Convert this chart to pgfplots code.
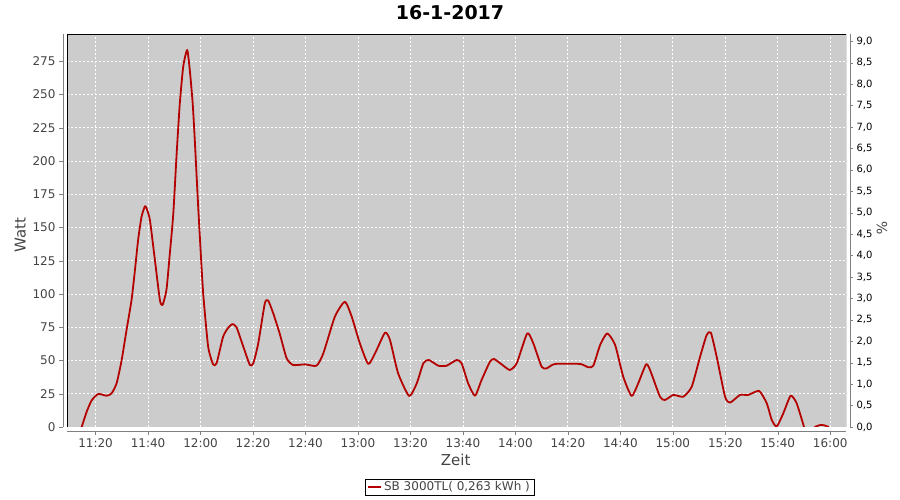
\documentclass[border=0pt]{standalone}
\usepackage{fontspec}
\setmainfont{DejaVu Sans}
\usepackage{pgfplots}
\pgfplotsset{compat=1.18}
\definecolor{bg}{RGB}{204,204,204}
\definecolor{wline}{RGB}{180,0,0}
\definecolor{axgray}{RGB}{128,128,128}
\definecolor{txt}{RGB}{68,68,68}

\begin{document}
\begin{tikzpicture}[x=1pt,y=1pt]
\useasboundingbox (0,0) rectangle (900,500);
\node[font=\bfseries\fontsize{19}{22}\selectfont] at (450,487) {16-1-2017};

% right axis (%)
\begin{axis}[
  at={(67pt,73pt)}, anchor=south west,
  width=779pt, height=393pt, scale only axis,
  xmin=9.1, xmax=306, ymin=0, ymax=9.17,
  hide x axis,
  axis y line*=right,
  axis y line shift=4pt,
  axis line style={axgray},
  ytick={0,0.5,...,9},
  tick align=outside, major tick length=3pt,
  tick style={axgray},
  yticklabel style={font=\fontsize{10}{12}\selectfont, black,
    /pgf/number format/.cd, fixed, fixed zerofill, precision=1, use comma, assume math mode=true},
  ylabel={\%},
  ylabel style={font=\fontsize{14}{16}\selectfont, txt, at={(rel axis cs:1.046,0.506)}, anchor=center, rotate=180},
]
\end{axis}

\begin{axis}[
  at={(67pt,73pt)}, anchor=south west,
  width=779pt, height=393pt, scale only axis,
  xmin=9.1, xmax=306, ymin=0, ymax=295.5,
  axis background/.style={fill=bg},
  axis x line*=bottom, axis y line*=left,
  axis x line shift=4pt, axis y line shift=4pt,
  axis line style={axgray},
  xtick={20,40,...,300},
  xticklabels={11:20,11:40,12:00,12:20,12:40,13:00,13:20,13:40,14:00,14:20,14:40,15:00,15:20,15:40,16:00},
  ytick={0,25,...,275},
  tick align=outside, major tick length=4pt,
  tick style={axgray},
  ticklabel style={font=\fontsize{12}{14}\selectfont, txt},
  /pgf/number format/assume math mode=true,
  grid=major,
  major grid style={white, dash pattern=on 2pt off 2pt, line width=0.8pt},
  unbounded coords=jump,
  xlabel={Zeit},
  xlabel style={font=\fontsize{15}{18}\selectfont, txt, at={(rel axis cs:0.499,-0.084)}, anchor=center},
  ylabel={Watt},
  ylabel style={font=\fontsize{15}{18}\selectfont, txt, at={(rel axis cs:-0.06,0.4885)}, anchor=center},
  legend style={at={(rel axis cs:0.491,-0.153)}, anchor=center, draw=black,
    font=\fontsize{12}{14}\selectfont, text=txt, inner xsep=2pt, inner ysep=1pt},
  legend image code/.code={\draw[#1, line width=2pt] (0pt,0pt) -- (13pt,0pt);},
]
\addplot[wline, line width=1.8pt, line join=round, smooth, tension=0.35] coordinates {
(14.7,0) (16.6,11.5) (18.5,20) (21,24.8) (24.2,23.5) (26.1,25.3) (28,32.8) (29.9,50)
(31.8,73) (33.7,95.5) (35,118) (36.2,140.6) (37.5,158) (38.8,166) (39.5,164) (40.7,155.6)
(42.6,125.6) (44.5,95.5) (45.5,91.7) (47,103) (48.3,130.6) (49.6,160) (50.9,205.8)
(52.1,243.4) (53.4,271) (54.9,283.5) (55.9,268.4) (57,243.4) (57.8,215.8) (59.1,165.6)
(59.8,140.6) (61,100.5) (62.9,60.4) (64.8,47.1) (66.1,47.9) (68.6,67.9) (70.5,74.5)
(72.1,77.4) (73.7,75) (76.3,60.4) (78.8,46.6) (80.1,47.9) (82,63) (84.5,93) (85.8,95)
(87.7,85.5) (90.2,70) (92.8,51.7) (95.3,46.6) (99.8,47.1) (104.2,46.1) (106.8,55.4)
(111.2,83) (115,94.2) (117.6,83) (120.7,63) (123.9,47.4) (126.5,55.4) (130.3,70.9)
(132.2,65.4) (135.3,40.4) (139.5,23.3) (142.4,32.8) (144.9,47.9) (147,50.4) (150.6,46.1)
(153.8,46.1) (157.6,50.4) (159.5,47.9) (162,32.8) (164.6,23.5) (167.1,35.3) (170.3,49.1)
(171.9,51.1) (175.4,46.1) (177.9,42.9) (180.5,47.9) (184.5,70.4) (186.8,63) (190,45.3)
(191.9,44.1) (195.1,47.4) (204.6,47.4) (207.8,44.9) (209.7,46.1) (212.3,61.7) (215,70.4)
(218,61.7) (221.1,37.8) (224.3,23.3) (226.8,32.8) (229.8,47.1) (231.3,42.9) (235.1,22.8)
(237,20.3) (240.2,24.1) (244,22.8) (247.2,30.3) (250.4,52.9) (252.9,69.2) (254.5,70.9)
(256.7,52.9) (259.9,22.8) (261.8,18.3) (265.6,24.1) (268.7,24.1) (272.9,27.1) (275.8,17.8)
(277.7,5.3) (279.6,0.3) (282.1,10.3) (284.9,23.5) (287.2,17.8) (290,0) (292,inf) (294,0)
(296.2,1.5) (297.8,1.2) (299.4,0)
};
\addlegendentry{SB 3000TL( 0,263 kWh )}
\draw[black, line width=0.8pt] (rel axis cs:0,0) rectangle (rel axis cs:1,1);
\end{axis}
\end{tikzpicture}
\end{document}
